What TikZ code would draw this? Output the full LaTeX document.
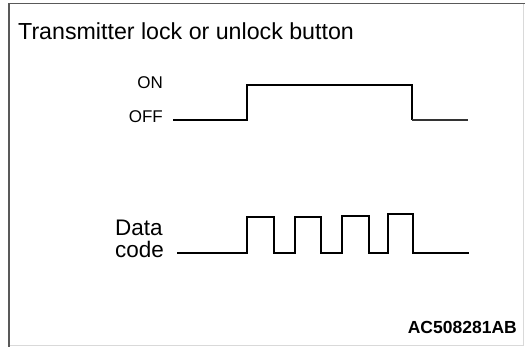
\documentclass[tikz,border=0pt]{standalone}
\usepackage{fontspec}
\setmainfont{Liberation Sans}
\usetikzlibrary{positioning}

\begin{document}
\begin{tikzpicture}[x=1pt,y=-1pt,
  lbl/.style={inner sep=0pt,font=\fontsize{17}{20}\selectfont},
  big/.style={inner sep=0pt,font=\fontsize{22.5}{26}\selectfont},
  wave/.style={line width=2.4pt,line join=miter}]
\useasboundingbox (0,0) rectangle (525,347);
% frame
\draw[line width=0.8pt,black!15] (9,345.5) -- (523.5,345.5) -- (523.5,3.5);
\draw[line width=1.6pt,black!65] (9,347) -- (9,3.5) -- (525,3.5);
% labels
\node[big,anchor=base west,font=\fontsize{23.2}{26}\selectfont]
                             (title) at (18,40)   {Transmitter lock or unlock button};
\node[lbl,anchor=base east]  (on)    at (163,89)  {ON};
\node[lbl,anchor=base east]  (off)   at (163,123) {OFF};
\node[big,anchor=base west]  (data)  at (115,236) {Data};
\node[big,anchor=base west]  (code)  at (115,258) {code};
\node[lbl,anchor=base east,font=\fontsize{17.5}{20}\selectfont\bfseries]
                             (ref)   at (517,334) {AC508281AB};
% switch signal
\coordinate (s0) at (173,120);
\draw[wave] (s0) -- (247,120) -- (247,85) -- (412,85) -- (412,120);
\draw[line width=1.6pt,black!80] (412,120) -- (468,120);
% data signal
\coordinate (d0) at (177,253);
\draw[wave] (d0)
  \foreach \a/\b/\h in {247/274/217, 295/321/217, 342/369/216, 388/413/214}
  { -- (\a,253) -- (\a,\h) -- (\b,\h) -- (\b,253) } -- (469,253);
\end{tikzpicture}
\end{document}
